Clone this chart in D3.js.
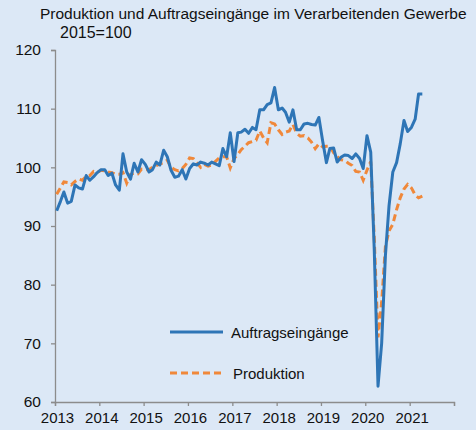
<!DOCTYPE html>
<html>
<head>
<meta charset="utf-8">
<script src="https://cdn.jsdelivr.net/npm/d3@7"></script>
<style>
  html, body { margin: 0; padding: 0; background: #dce8f6; }
  svg { display: block; font-family: "Liberation Sans", Arial, sans-serif; }
</style>
</head>
<body>
<svg id="chart" width="476" height="430"></svg>
<script>
// monthly, Jan 2013 .. Apr 2021
var startYear = 2013, startMonth = 0;

var auftragseingaenge = [
  92.6, 94.2, 95.8, 93.9, 94.2, 97.0, 96.5, 96.3, 98.6, 97.8, 98.4, 99.1,
  99.6, 99.6, 98.6, 99.0, 97.0, 96.1, 102.3, 99.2, 98.0, 100.7, 99.2, 101.3,
  100.5, 99.2, 99.6, 100.9, 100.4, 102.9, 101.8, 99.5, 98.3, 98.5, 99.6, 98.0,
  99.8, 100.6, 100.4, 100.9, 100.7, 100.4, 100.9, 100.6, 100.3, 103.2, 101.8, 105.9,
  101.0, 105.9, 106.0, 106.5, 105.8, 106.8, 106.4, 109.8, 109.8, 110.7, 111.0, 113.6,
  109.8, 110.1, 109.4, 107.7, 109.8, 106.4, 106.4, 107.4, 107.5, 107.3, 107.2, 108.5,
  104.5, 100.8, 103.2, 103.3, 100.9, 101.7, 102.1, 102.0, 101.5, 102.3, 101.5, 99.8,
  105.4, 102.6, 86.0, 62.7, 70.0, 85.0, 93.5, 99.2, 100.8, 104.0, 108.0, 106.1,
  106.8, 108.2, 112.5, 112.5
];

var produktion = [
  95.4, 96.5, 97.5, 97.4, 97.0, 97.6, 98.0, 97.8, 98.5, 98.6, 99.3, 99.1,
  99.5, 99.4, 99.2, 99.1, 98.8, 98.8, 99.1, 97.3, 98.8, 99.0, 98.9, 99.7,
  99.6, 99.6, 100.0, 100.3, 100.6, 100.8, 101.2, 100.0, 99.6, 99.4, 99.8, 100.5,
  101.6, 101.5, 100.8, 100.0, 100.5, 100.2, 100.4, 101.0, 101.6, 101.8, 101.8, 99.9,
  101.5, 102.2, 103.0, 103.6, 104.2, 104.4, 104.6, 106.2, 105.0, 104.2, 107.6, 107.4,
  106.4, 105.6, 106.0, 106.2, 107.3, 105.8, 105.3, 105.4, 105.0, 104.3, 103.2, 104.0,
  103.5, 103.6, 103.6, 102.5, 101.8, 101.3, 101.2, 100.7, 100.3, 99.3, 99.2, 97.8,
  99.5, 101.0, 88.0, 71.0, 77.0, 86.5, 89.2, 90.3, 92.8, 94.8, 96.3, 97.1,
  96.5, 95.3, 94.8, 95.1
];

var yearTicks = [2013, 2014, 2015, 2016, 2017, 2018, 2019, 2020, 2021, 2022];
var yTicks = [60, 70, 80, 90, 100, 110, 120];

var titleText = "Produktion und Auftragseingänge im Verarbeitenden Gewerbe";
var subtitleText = "2015=100";
var seriesNames = ["Auftragseingänge", "Produktion"];

var blue = "#2e75b6", orange = "#f0883a", axisColor = "#8c8c8c";

var svg = d3.select("#chart");
svg.append("rect").attr("width", 476).attr("height", 430).attr("fill", "#dce8f6");

var x = d3.scaleTime()
  .domain([new Date(2013, 0, 1), new Date(2022, 0, 1)])
  .range([55, 454]);
var y = d3.scaleLinear().domain([60, 120]).range([402, 50]);

function monthDate(i) {
  return new Date(startYear, startMonth + i, 15);
}

// axes
var yAxis = d3.axisLeft(y).tickValues(yTicks).tickSize(4).tickPadding(10);
var gy = svg.append("g").attr("transform", "translate(55,0)").call(yAxis);
var xAxis = d3.axisBottom(x)
  .tickValues(yearTicks.map(function(d) { return new Date(d, 0, 1); }))
  .tickFormat(function(d) { var yr = d.getFullYear(); return yr < 2022 ? yr : ""; })
  .tickSize(4).tickPadding(6);
var gx = svg.append("g").attr("transform", "translate(0,402)").call(xAxis);

[gx, gy].forEach(function(g) {
  g.select(".domain").attr("stroke", axisColor).attr("stroke-width", 1.3);
  g.selectAll(".tick line").attr("stroke", axisColor).attr("stroke-width", 1.3);
  g.selectAll(".tick text").attr("fill", "#111").style("font-size", "15px")
    .style("font-family", "'Liberation Sans', Arial, sans-serif");
});
gy.selectAll(".tick text").style("font-size", "15.5px");
gx.selectAll(".tick text").attr("dx", "2");

var line = d3.line()
  .x(function(d, i) { return x(monthDate(i)); })
  .y(function(d) { return y(d); });

svg.append("path").datum(produktion)
  .attr("fill", "none").attr("stroke", orange).attr("stroke-width", 3)
  .attr("stroke-dasharray", "7,4").attr("d", line);

svg.append("path").datum(auftragseingaenge)
  .attr("fill", "none").attr("stroke", blue).attr("stroke-width", 3)
  .attr("stroke-linejoin", "round").attr("d", line);

// titles
svg.append("text").attr("x", 40).attr("y", 19).text(titleText)
  .style("font-size", "15.5px").attr("fill", "#111");
svg.append("text").attr("x", 60).attr("y", 38).text(subtitleText)
  .style("font-size", "16px").attr("fill", "#111");

// legend
var legend = svg.append("g");
legend.append("line").attr("x1", 170).attr("x2", 223).attr("y1", 332).attr("y2", 332)
  .attr("stroke", blue).attr("stroke-width", 3);
legend.append("text").attr("x", 231).attr("y", 338).text(seriesNames[0])
  .style("font-size", "15px").attr("fill", "#111");
legend.append("line").attr("x1", 170).attr("x2", 225).attr("y1", 373).attr("y2", 373)
  .attr("stroke", orange).attr("stroke-width", 3).attr("stroke-dasharray", "7,4");
legend.append("text").attr("x", 233).attr("y", 379).text(seriesNames[1])
  .style("font-size", "15px").attr("fill", "#111");
</script>
</body>
</html>
